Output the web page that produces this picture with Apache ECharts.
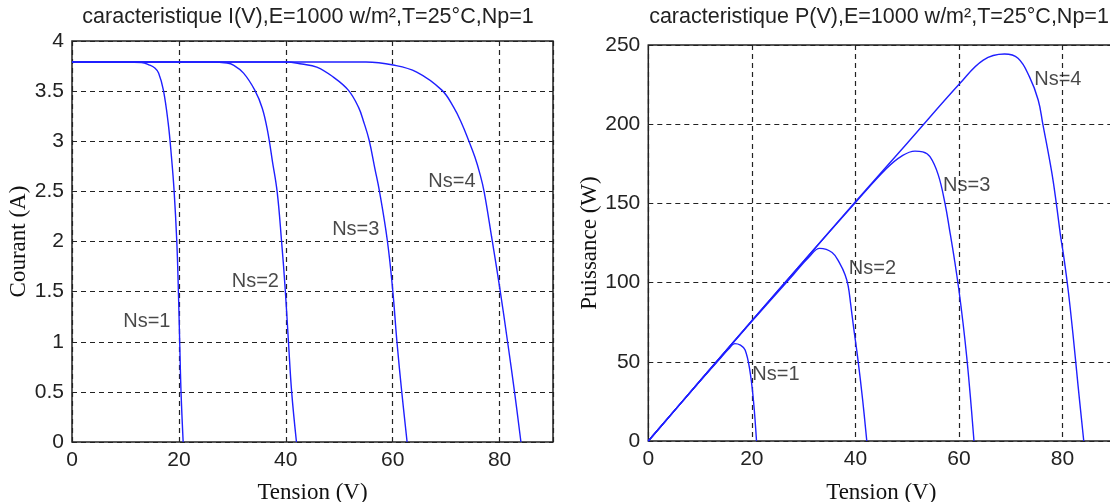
<!DOCTYPE html>
<html>
<head>
<meta charset="utf-8">
<script src="https://cdn.jsdelivr.net/npm/echarts@6/dist/echarts.min.js"></script>
<style>
html,body{margin:0;padding:0;background:#fff;}
#c{width:1110px;height:502px;}
</style>
</head>
<body>
<div id="c"></div>
<script>
// ---- data ----
const titleIV = 'caracteristique I(V),E=1000 w/m²,T=25°C,Np=1';
const titlePV = 'caracteristique P(V),E=1000 w/m²,T=25°C,Np=1';
const xName = 'Tension (V)';
const yNameIV = 'Courant (A)';
const yNamePV = 'Puissance (W)';
const seriesNames = ['Ns=1', 'Ns=2', 'Ns=3', 'Ns=4'];

// I(V) curves
const ivV1 = [0, 10, 13, 14.5, 15.5, 16.2, 17.1, 18.0, 18.6, 19.1, 19.6, 19.9, 20.15, 20.4, 20.8];
const ivI1 = [3.79, 3.79, 3.785, 3.76, 3.73, 3.68, 3.51, 3.18, 2.85, 2.51, 2.01, 1.52, 1.0, 0.5, 0];
const ivV2 = [0, 26, 29, 30.2, 32.1, 34.2, 35.6, 36.6, 37.5, 38.4, 39.2, 39.9, 40.5, 41.1, 42.0];
const ivI2 = [3.79, 3.79, 3.78, 3.76, 3.68, 3.51, 3.33, 3.10, 2.80, 2.49, 2.01, 1.52, 1.0, 0.5, 0];
const ivV3 = [0, 40, 43, 45.8, 48.9, 51.7, 53.6, 54.6, 55.6, 56.7, 57.5, 59.0, 60.0, 60.8, 61.7, 62.7];
const ivI3 = [3.79, 3.79, 3.77, 3.74, 3.64, 3.51, 3.34, 3.19, 3.01, 2.72, 2.51, 2.01, 1.52, 1.0, 0.5, 0];
const ivV4 = [0, 55, 60.1, 64.5, 69.2, 71.4, 72.9, 74.2, 75.4, 76.3, 77.1, 78.5, 80.0, 81.5, 82.8, 84.0];
const ivI4 = [3.79, 3.79, 3.76, 3.69, 3.51, 3.34, 3.18, 3.01, 2.84, 2.68, 2.50, 2.05, 1.55, 1.0, 0.5, 0];

// P(V) curves
const pvV1 = [0, 5, 10, 14, 15.5, 16.7, 17.8, 18.7, 19.6, 20.3, 20.9];
const pvP1 = [0, 19, 37.8, 52.5, 58, 61.5, 60.5, 57.4, 44.8, 25.9, 0];
const pvV2 = [0, 10, 20, 28, 31, 33.1, 35.5, 37.0, 38.0, 38.6, 39.1, 39.6, 40.5, 41.4, 42.2];
const pvP2 = [0, 38, 75.5, 105, 116, 121.6, 119, 112, 105, 98, 86, 73, 51.1, 25.9, 0];
const pvV3 = [0, 10, 20, 30, 40, 46, 49, 51.5, 53, 54.4, 56.0, 57.3, 58.2, 59.2, 60.0, 60.8, 61.5, 62.2, 62.9];
const pvP3 = [0, 38, 76, 113.5, 150.5, 172, 180, 183, 182.5, 179.5, 168, 150, 133, 113, 95, 74, 53, 28, 0];
const pvV4 = [0, 10, 20, 30, 40, 50, 60.2, 64.7, 68.8, 71.4, 73.6, 75.3, 76.2, 77.9, 78.8, 79.6, 80.3, 81.1, 82.0, 83.0, 84.1];
const pvP4 = [0, 38, 76, 113.5, 151, 188, 225.8, 240.5, 244.3, 241.6, 230, 215.3, 200, 170, 150, 130, 115, 95, 68, 35, 0];

// curve label anchors (V, value)
const ivLabelV = [14.0, 34.3, 53.1, 71.1];
const ivLabelI = [1.20, 1.60, 2.12, 2.60];
const pvLabelV = [24.65, 43.3, 61.5, 79.1];
const pvLabelP = [42.3, 108.6, 161, 228.5];

// axes
const xMin = 0, xMax = 90, xStep = 20;
const iMin = 0, iMax = 4, iStep = 0.5;
const pMin = 0, pMax = 250, pStep = 50;

// ---- chart ----
const zip = (a, b) => a.map((v, i) => [v, b[i]]);
const chart = echarts.init(document.getElementById('c'), null, {renderer: 'canvas'});
const sans = '"Liberation Sans", Arial, sans-serif';
const serif = '"Liberation Serif", "Times New Roman", serif';
const txt = '#222';
const blue = '#1f1fff';

const gridLine = {show: true, lineStyle: {color: '#222', width: 1.2, type: [5, 4]}};
function xAx(idx) {
  return {
    type: 'value', gridIndex: idx, min: xMin, max: xMax, interval: xStep,
    name: xName, nameLocation: 'middle', nameGap: idx === 0 ? 39 : 40,
    nameTextStyle: {fontFamily: serif, fontSize: 23, color: '#111'},
    axisLine: {show: false}, axisTick: {show: false},
    axisLabel: {fontFamily: sans, fontSize: 21, color: txt, margin: 8, showMaxLabel: false},
    splitLine: gridLine
  };
}
function yAx(idx, min, max, step, name, gap) {
  return {
    type: 'value', gridIndex: idx, min: min, max: max, interval: step,
    name: name, nameLocation: 'middle', nameGap: gap,
    nameTextStyle: {fontFamily: serif, fontSize: 23, color: '#111'},
    axisLine: {show: false}, axisTick: {show: false},
    axisLabel: {fontFamily: sans, fontSize: 21, color: txt, margin: 8},
    splitLine: gridLine
  };
}
function curve(x, y, xi, yi) {
  return {
    type: 'line', xAxisIndex: xi, yAxisIndex: yi, data: zip(x, y),
    showSymbol: false, smooth: 0.4, lineStyle: {color: blue, width: 1.4},
    silent: true, animation: false, z: 3
  };
}
function labels(xs, ys, idx) {
  return {
    type: 'scatter', xAxisIndex: idx, yAxisIndex: idx, symbolSize: 0,
    data: xs.map((v, i) => [v, ys[i], seriesNames[i]]),
    label: {show: true, position: 'inside', formatter: p => p.value[2],
      fontFamily: sans, fontSize: 20, color: '#1a1a1a'},
    silent: true, animation: false, z: 5
  };
}

chart.setOption({
  animation: false,
  backgroundColor: '#fff',
  grid: [
    {left: 72, top: 41, width: 481, height: 401, containLabel: false, outerBoundsMode: 'none',
     show: true, borderColor: '#222', borderWidth: 1.5, backgroundColor: 'transparent'},
    {left: 648.3, top: 45, width: 466, height: 396, containLabel: false, outerBoundsMode: 'none',
     show: true, borderColor: '#222', borderWidth: 1.5, backgroundColor: 'transparent'}
  ],
  xAxis: [xAx(0), xAx(1)],
  yAxis: [yAx(0, iMin, iMax, iStep, yNameIV, 37), yAx(1, pMin, pMax, pStep, yNamePV, 42)],
  graphic: [
    {type: 'text', x: 308, y: 17, style: {text: titleIV, font: '21.5px ' + sans, fill: txt, textAlign: 'center', textVerticalAlign: 'middle'}},
    {type: 'text', x: 879, y: 17, style: {text: titlePV, font: '21.5px ' + sans, fill: txt, textAlign: 'center', textVerticalAlign: 'middle'}}
  ],
  series: [
    curve(ivV1, ivI1, 0, 0), curve(ivV2, ivI2, 0, 0), curve(ivV3, ivI3, 0, 0), curve(ivV4, ivI4, 0, 0),
    curve(pvV1, pvP1, 1, 1), curve(pvV2, pvP2, 1, 1), curve(pvV3, pvP3, 1, 1), curve(pvV4, pvP4, 1, 1),
    labels(ivLabelV, ivLabelI, 0), labels(pvLabelV, pvLabelP, 1)
  ]
});
</script>
</body>
</html>
